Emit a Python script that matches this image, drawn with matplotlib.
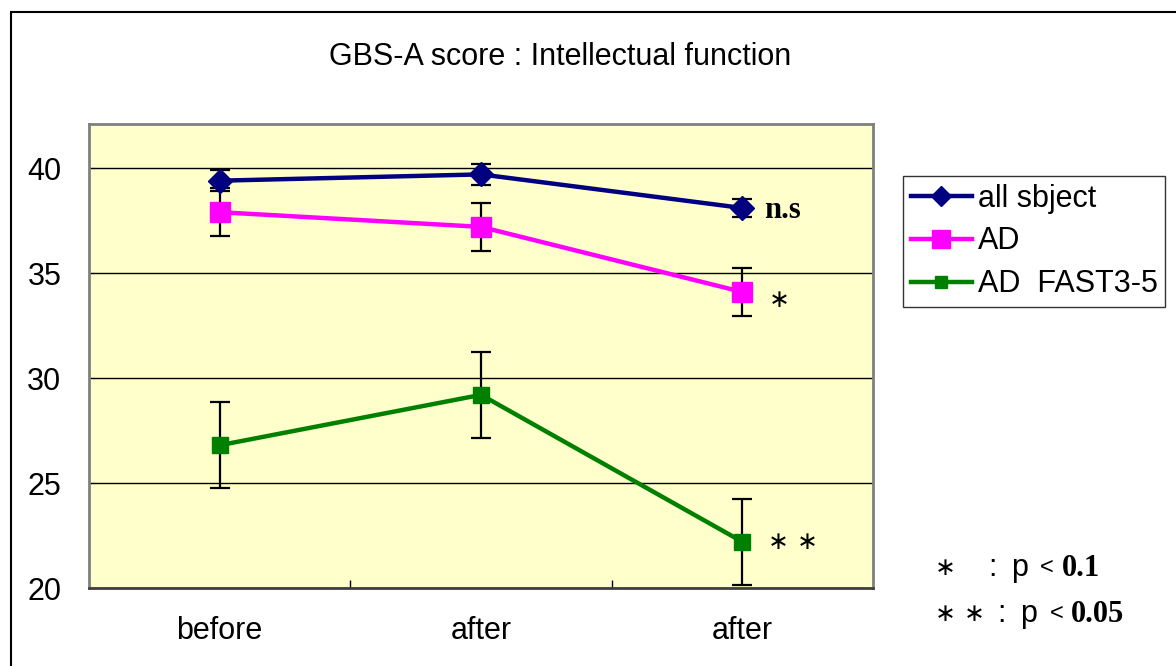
import matplotlib.pyplot as plt
import numpy as np
from matplotlib.patches import Rectangle

plt.rcParams['font.family'] = ['Liberation Sans', 'DejaVu Sans']

categories = ['before', 'after', 'after']
all_subject = [39.4, 39.7, 38.1]
all_subject_err = [0.5, 0.5, 0.45]
ad = [37.9, 37.2, 34.1]
ad_err = [1.15, 1.15, 1.15]
ad_fast = [26.8, 29.2, 22.2]
ad_fast_err = [2.05, 2.05, 2.05]
marks = ['n.s', '\u2217', '\u2217 \u2217']

FS = 22
STAR = dict(family='DejaVu Sans', fontsize=18)

fig = plt.figure(figsize=(11.76, 6.66), dpi=100)
fig.patches.append(Rectangle((11 / 1176, -0.1), 1.2, 1.1 - 12 / 666,
                             transform=fig.transFigure, fill=False,
                             edgecolor='black', linewidth=1.5))

ax = fig.add_axes([89 / 1176, 1 - 588 / 666, 784 / 1176, 464 / 666])
ax.set_facecolor('#FFFFCC')
x = np.arange(len(categories))

series = [
    (all_subject, all_subject_err, '#000080', 'D', 12, 'all sbject'),
    (ad, ad_err, '#FF00FF', 's', 15, 'AD'),
    (ad_fast, ad_fast_err, '#008000', 's', 11, 'AD  FAST3-5'),
]
for vals, err, col, mk, ms, lab in series:
    ax.errorbar(x, vals, yerr=err, fmt='none', ecolor='black', elinewidth=1.6,
                capsize=7, capthick=1.6, zorder=2)
    ax.plot(x, vals, color=col, marker=mk, markersize=ms, linewidth=3.2,
            label=lab, zorder=3)

ax.set_xlim(-0.5, 2.5)
ax.set_ylim(20, 42.1)
ax.set_yticks([20, 25, 30, 35, 40])
ax.yaxis.grid(True, color='black', linewidth=1)
ax.set_axisbelow(True)
ax.set_xticks(x)
ax.set_xticklabels(categories, fontsize=FS)
ax.set_xticks([0.5, 1.5], minor=True)
ax.tick_params(axis='x', which='major', length=0, pad=20)
ax.tick_params(axis='x', which='minor', direction='in', length=6, width=1)
ax.tick_params(axis='y', direction='in', length=4, labelsize=FS, pad=20)
for s in ax.spines.values():
    s.set_color('#808080')
    s.set_linewidth(2)
ax.spines['bottom'].set_color('#404040')

ax.text(2.084, all_subject[2] - 0.1, marks[0], fontsize=FS, fontweight='bold',
        family='Liberation Serif', va='center', ha='left')
ax.text(2.1, ad[2] - 0.4, marks[1], va='center', ha='left', **STAR)
ax.text(2.1, ad_fast[2], marks[2], va='center', ha='left', **STAR)

fig.text(560 / 1176, 1 - 57 / 666, 'GBS-A score : Intellectual function',
         fontsize=FS, ha='center', va='center')

leg = ax.legend(loc='upper left', bbox_to_anchor=(903 / 1176, 1 - 176 / 666),
                bbox_transform=fig.transFigure, fontsize=FS, frameon=True,
                fancybox=False, edgecolor='black', handlelength=2.0,
                handletextpad=0.2, borderpad=0.25, labelspacing=0.42,
                borderaxespad=0, markerscale=0.85)
leg.get_frame().set_linewidth(1)

y1 = 1 - 568 / 666
y2 = 1 - 614 / 666
fig.text(935 / 1176, y1, '\u2217', va='center', **STAR)
fig.text(988 / 1176, y1, ':', fontsize=FS, va='center')
fig.text(1011 / 1176, y1, 'p', fontsize=FS, va='center')
fig.text(1040 / 1176, y1, '<', fontsize=FS - 5, va='center')
fig.text(1062 / 1176, y1, '0.1', fontsize=FS, va='center',
         fontweight='bold', family='Liberation Serif')
fig.text(935 / 1176, y2, '\u2217 \u2217', va='center', **STAR)
fig.text(997 / 1176, y2, ':', fontsize=FS, va='center')
fig.text(1020 / 1176, y2, 'p', fontsize=FS, va='center')
fig.text(1050 / 1176, y2, '<', fontsize=FS - 5, va='center')
fig.text(1071 / 1176, y2, '0.05', fontsize=FS, va='center',
         fontweight='bold', family='Liberation Serif')

fig.savefig('out.png', dpi=100)
